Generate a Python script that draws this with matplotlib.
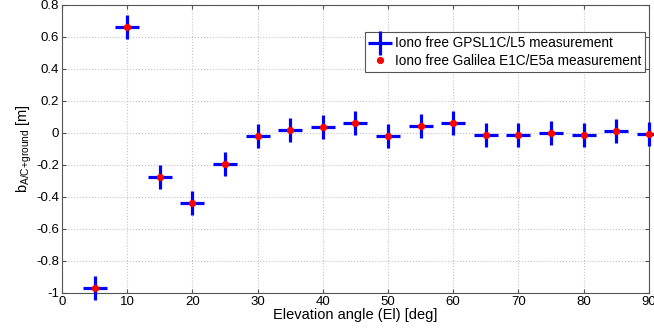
import numpy as np
import matplotlib.pyplot as plt

plt.rcParams['font.family'] = ['Liberation Sans', 'DejaVu Sans']
plt.rcParams['mathtext.fontset'] = 'custom'
plt.rcParams['mathtext.rm'] = 'Liberation Sans'

# Elevation bins and measured bias per bin
elevation = [5, 10, 15, 20, 25, 30, 35, 40, 45, 50, 55, 60, 65, 70, 75, 80, 85, 90]
bias_gps = [-0.97, 0.665, -0.275, -0.435, -0.195, -0.02, 0.02, 0.04, 0.065, -0.02,
            0.045, 0.06, -0.015, -0.01, 0.0, -0.01, 0.01, -0.005]
bias_gal = [-0.97, 0.665, -0.275, -0.435, -0.195, -0.02, 0.02, 0.04, 0.065, -0.02,
            0.045, 0.06, -0.015, -0.01, 0.0, -0.01, 0.01, -0.005]

fig = plt.figure(figsize=(6.54, 3.32), dpi=100)
ax = fig.add_axes([0.095, 0.1175, 0.897, 0.8675])

ax.plot(elevation, bias_gps, ls='none', marker='+', ms=17, mew=2.3, color='#0000ff',
        label='Iono free GPSL1C/L5 measurement', clip_on=False, zorder=3)
ax.plot(elevation, bias_gal, ls='none', marker='o', ms=4.2, color='#ff0000', mec='#ff0000',
        label='Iono free Galilea E1C/E5a measurement', clip_on=False, zorder=4)

ax.set_xlim(0, 90)
ax.set_ylim(-1, 0.8)
ax.set_xticks(np.arange(0, 91, 10))
ax.set_yticks(np.arange(-1, 0.81, 0.2))
ax.set_yticklabels(['-1', '-0.8', '-0.6', '-0.4', '-0.2', '0', '0.2', '0.4', '0.6', '0.8'])
ax.grid(True, ls=':', color='#c4c4c4', lw=0.8)
ax.tick_params(direction='in', length=3, labelsize=9.5, color='#555555', pad=2,
               top=True, right=True)
for s in ax.spines.values():
    s.set_color('#555555')
    s.set_linewidth(0.8)

ax.set_xlabel('Elevation angle (El) [deg]', fontsize=10.5, labelpad=0)
ax.set_ylabel(r'b$_{\mathregular{A/C{+}ground}}$ [m]', fontsize=10.5, labelpad=2)

leg = ax.legend(loc='upper right', bbox_to_anchor=(0.994, 0.905), fontsize=9.8,
                frameon=True, fancybox=False, edgecolor='#555555', framealpha=1,
                handlelength=1.6, handletextpad=0.3, borderpad=0.3, labelspacing=0.25,
                borderaxespad=0)
leg.get_frame().set_linewidth(0.8)

fig.savefig('out.png', dpi=100)
